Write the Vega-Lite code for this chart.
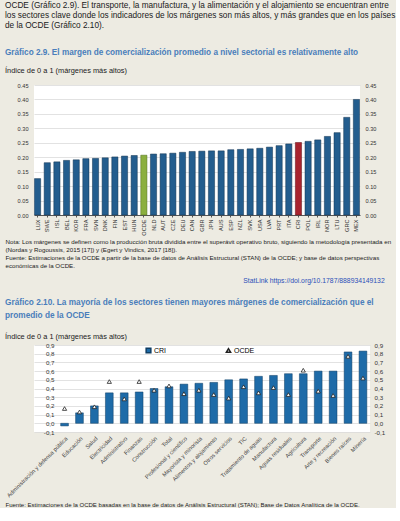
{
  "$schema": "https://vega.github.io/schema/vega-lite/v6.json",
  "background": "#EDEBE2",
  "padding": {"left": 5, "top": 1, "right": 0, "bottom": 0},
  "config": {
    "font": "Liberation Sans",
    "view": {"fill": "white", "stroke": null},
    "axis": {"labelFont": "Liberation Sans", "titleFont": "Liberation Sans", "labelColor": "#333", "gridColor": "#DADADA", "gridWidth": 0.8}
  },
  "title": {
    "text": [
      "OCDE (Gráfico 2.9). El transporte, la manufactura, y la alimentación y el alojamiento se encuentran entre",
      "los sectores clave donde los indicadores de los márgenes son más altos, y más grandes que en los países",
      "de la OCDE (Gráfico 2.10)."
    ],
    "anchor": "start",
    "fontSize": 8.25,
    "fontWeight": "normal",
    "color": "#1a1a1a",
    "lineHeight": 10,
    "offset": 19
  },
  "spacing": 8,
  "resolve": {"scale": {"color": "independent", "shape": "independent"}, "legend": {"color": "independent", "shape": "independent"}},
  "vconcat": [
    {
      "width": 326,
      "height": 130,
      "title": {
        "text": "Gráfico 2.9. El margen de comercialización promedio a nivel sectorial es relativamente alto",
        "subtitle": "Índice de 0 a 1 (márgenes más altos)",
        "anchor": "start",
        "frame": "bounds",
        "fontSize": 8.2,
        "fontWeight": "bold",
        "color": "#4A7EBB",
        "subtitleFontSize": 7.4,
        "subtitleColor": "#1a1a1a",
        "subtitlePadding": 9,
        "offset": 8
      },
      "data": {
        "values": [
          {"pais": "LUX", "valor": 0.126},
          {"pais": "SWE", "valor": 0.181},
          {"pais": "ISL", "valor": 0.184},
          {"pais": "BEL", "valor": 0.189},
          {"pais": "KOR", "valor": 0.191},
          {"pais": "FRA", "valor": 0.195},
          {"pais": "SVN", "valor": 0.196},
          {"pais": "DNK", "valor": 0.198},
          {"pais": "FIN", "valor": 0.201},
          {"pais": "EST", "valor": 0.204},
          {"pais": "HUN", "valor": 0.206},
          {"pais": "OCDE", "valor": 0.207},
          {"pais": "NLD", "valor": 0.211},
          {"pais": "AUT", "valor": 0.212},
          {"pais": "CZE", "valor": 0.214},
          {"pais": "DEU", "valor": 0.217},
          {"pais": "CAN", "valor": 0.22},
          {"pais": "GBR", "valor": 0.221},
          {"pais": "JPN", "valor": 0.222},
          {"pais": "AUS", "valor": 0.222},
          {"pais": "ESP", "valor": 0.226},
          {"pais": "NZL", "valor": 0.227},
          {"pais": "SVK", "valor": 0.229},
          {"pais": "USA", "valor": 0.231},
          {"pais": "LVA", "valor": 0.235},
          {"pais": "PRT", "valor": 0.24},
          {"pais": "ITA", "valor": 0.246},
          {"pais": "CRI", "valor": 0.251},
          {"pais": "POL", "valor": 0.255},
          {"pais": "IRL", "valor": 0.26},
          {"pais": "NOR", "valor": 0.272},
          {"pais": "LTU", "valor": 0.285},
          {"pais": "GRC", "valor": 0.338},
          {"pais": "MEX", "valor": 0.4}
        ]
      },
      "encoding": {
        "x": {
          "field": "pais",
          "type": "nominal",
          "sort": null,
          "scale": {"paddingInner": 0.36, "paddingOuter": 0.05},
          "axis": {
            "labelAngle": -90,
            "labelFontSize": 5.6,
            "labelPadding": 2,
            "domainColor": "#555",
            "tickColor": "#555",
            "tickSize": 2,
            "title": [
              "Nota: Los márgenes se definen como la producción bruta dividida entre el superávit operativo bruto, siguiendo la metodología presentada en",
              "(Nordas y Rogoussis, 2015 [17]) y (Egert y Vindics, 2017 [18]).",
              "Fuente: Estimaciones de la OCDE a partir de la base de datos de Análisis Estructural (STAN) de la OCDE; y base de datos perspectivas",
              "económicas de la OCDE."
            ],
            "titleFontSize": 6.2,
            "titleFontWeight": "normal",
            "titleColor": "#1a1a1a",
            "titleAnchor": "start",
            "titleAlign": "left",
            "titleX": -29,
            "titleLineHeight": 8,
            "titlePadding": 3
          }
        },
        "y": {
          "field": "valor",
          "type": "quantitative",
          "scale": {"domain": [0, 0.45]}
        }
      },
      "layer": [
        {
          "mark": {"type": "bar", "strokeWidth": 0.5},
          "encoding": {
            "y": {
              "field": "valor",
              "type": "quantitative",
              "scale": {"domain": [0, 0.45]},
              "axis": {
                "orient": "left",
                "values": [0, 0.05, 0.1, 0.15, 0.2, 0.25, 0.3, 0.35, 0.4, 0.45],
                "format": ".2f",
                "labelFontSize": 5.6,
                "domain": false,
                "ticks": false,
                "labelPadding": 6,
                "minExtent": 29,
                "maxExtent": 29,
                "title": null
              }
            },
            "fill": {
              "condition": [
                {"test": "datum.pais === 'CRI'", "value": "#A8232E"},
                {"test": "datum.pais === 'OCDE'", "value": "#8BAF3F"}
              ],
              "value": "#235D8E"
            },
            "stroke": {
              "condition": [
                {"test": "datum.pais === 'CRI'", "value": "#5e1016"},
                {"test": "datum.pais === 'OCDE'", "value": "#4d6a1c"}
              ],
              "value": "#12324f"
            }
          }
        },
        {
          "mark": {"type": "bar", "opacity": 0},
          "encoding": {
            "y": {
              "field": "valor",
              "type": "quantitative",
              "scale": {"domain": [0, 0.45]},
              "axis": {
                "orient": "right",
                "values": [0, 0.05, 0.1, 0.15, 0.2, 0.25, 0.3, 0.35, 0.4, 0.45],
                "format": ".2f",
                "labelFontSize": 5.6,
                "domain": false,
                "ticks": false,
                "grid": false,
                "labelPadding": 5,
                "title": null
              }
            }
          }
        }
      ],
      "resolve": {"axis": {"y": "independent"}}
    },
    {
      "title": {
        "text": "StatLink  https://doi.org/10.1787/888934149132",
        "anchor": "end",
        "fontSize": 6.8,
        "fontWeight": "normal",
        "color": "#2B4FB8",
        "offset": 14
      },
      "resolve": {"scale": {"color": "independent", "shape": "independent"}, "legend": {"color": "independent", "shape": "independent"}},
      "vconcat": [
        {
          "width": 336,
          "height": 87,
          "title": {
            "text": [
              "Gráfico 2.10. La mayoría de los sectores tienen mayores márgenes de comercialización que el",
              "promedio de la OCDE"
            ],
            "subtitle": "Índice de 0 a 1 (márgenes más altos)",
            "anchor": "start",
            "frame": "bounds",
            "fontSize": 8.25,
            "fontWeight": "bold",
            "lineHeight": 13,
            "color": "#4A7EBB",
            "subtitleFontSize": 7.4,
            "subtitleColor": "#1a1a1a",
            "subtitlePadding": 13,
            "offset": 2
          },
          "data": {
            "values": [
              {"sector": "Administración y defensa pública", "CRI": -0.03, "OCDE": 0.17},
              {"sector": "Educación", "CRI": 0.12, "OCDE": 0.13},
              {"sector": "Salud", "CRI": 0.2, "OCDE": 0.19},
              {"sector": "Electricidad", "CRI": 0.35, "OCDE": 0.48},
              {"sector": "Administrativo", "CRI": 0.35, "OCDE": 0.28},
              {"sector": "Finanzas", "CRI": 0.36, "OCDE": 0.48},
              {"sector": "Construcción", "CRI": 0.4, "OCDE": 0.38},
              {"sector": "Total", "CRI": 0.42, "OCDE": 0.43},
              {"sector": "Profesional y científico", "CRI": 0.45, "OCDE": 0.34},
              {"sector": "Mayorista y minorista", "CRI": 0.46, "OCDE": 0.38},
              {"sector": "Alimentos y alojamiento", "CRI": 0.47, "OCDE": 0.33},
              {"sector": "Otros servicios", "CRI": 0.5, "OCDE": 0.29},
              {"sector": "TIC", "CRI": 0.51, "OCDE": 0.42},
              {"sector": "Tratamiento de aguas", "CRI": 0.54, "OCDE": 0.35},
              {"sector": "Manufactura", "CRI": 0.55, "OCDE": 0.41},
              {"sector": "Aguas residuales", "CRI": 0.57, "OCDE": 0.33},
              {"sector": "Agricultura", "CRI": 0.57, "OCDE": 0.61},
              {"sector": "Transporte", "CRI": 0.6, "OCDE": 0.37},
              {"sector": "Arte y recreación", "CRI": 0.6, "OCDE": 0.32},
              {"sector": "Bienes raíces", "CRI": 0.82, "OCDE": 0.77},
              {"sector": "Minería", "CRI": 0.83, "OCDE": 0.52}
            ]
          },
          "encoding": {
            "x": {
              "field": "sector",
              "type": "nominal",
              "sort": null,
              "scale": {"paddingInner": 0.48, "paddingOuter": 1.017, "align": 0.894},
              "axis": {
                "labelAngle": -45,
                "labelFontSize": 5.7,
                "labelColor": "#444",
                "labelPadding": 3,
                "domain": false,
                "ticks": false,
                "title": "Fuente: Estimaciones de la OCDE basadas en la base de datos de Análisis Estructural (STAN); Base de Datos Analítica de la OCDE.",
                "titleFontSize": 6.0,
                "titleFontWeight": "normal",
                "titleColor": "#1a1a1a",
                "titleAnchor": "start",
                "titleAlign": "left",
                "titleX": -29,
                "titlePadding": 4
              }
            }
          },
          "layer": [
            {
              "mark": {"type": "bar", "stroke": "#0f3d63", "strokeWidth": 0.5},
              "encoding": {
                "y": {
                  "field": "CRI",
                  "type": "quantitative",
                  "scale": {"domain": [-0.1, 0.9], "nice": false},
                  "axis": {
                    "orient": "left",
                    "offset": -23,
                    "values": [-0.1, 0, 0.1, 0.2, 0.3, 0.4, 0.5, 0.6, 0.7, 0.8, 0.9],
                    "labelExpr": "replace(replace(format(datum.value, '.1f'), '.', ','), '−', '-')",
                    "labelFontSize": 6.2,
                    "domain": false,
                    "ticks": false,
                    "labelPadding": 3,
                    "title": null
                  }
                },
                "color": {
                  "datum": "CRI",
                  "scale": {"domain": ["CRI"], "range": ["#1E6BA8"]},
                  "legend": {
                    "orient": "none",
                    "legendX": 111,
                    "legendY": 2,
                    "title": null,
                    "labelFontSize": 7,
                    "symbolType": "square",
                    "symbolSize": 22,
                    "labelOffset": 2
                  }
                }
              }
            },
            {
              "mark": {"type": "point", "filled": true, "fill": "white", "stroke": "#222", "strokeWidth": 0.8, "size": 18, "opacity": 1},
              "encoding": {
                "y": {
                  "field": "OCDE",
                  "type": "quantitative",
                  "scale": {"domain": [-0.1, 0.9], "nice": false},
                  "axis": {
                    "orient": "right",
                    "values": [-0.1, 0, 0.1, 0.2, 0.3, 0.4, 0.5, 0.6, 0.7, 0.8, 0.9],
                    "labelExpr": "replace(replace(format(datum.value, '.1f'), '.', ','), '−', '-')",
                    "labelFontSize": 6.2,
                    "domain": false,
                    "ticks": false,
                    "grid": false,
                    "labelPadding": 4,
                    "title": null
                  }
                },
                "shape": {
                  "datum": "OCDE",
                  "scale": {"domain": ["OCDE"], "range": ["triangle-up"]},
                  "legend": {
                    "orient": "none",
                    "legendX": 191,
                    "legendY": 2,
                    "title": null,
                    "labelFontSize": 7,
                    "symbolSize": 18,
                    "labelOffset": 2,
                    "encode": {"symbols": {"update": {"fill": {"value": "#333"}, "stroke": {"value": "#333"}, "opacity": {"value": 1}}}}
                  }
                }
              }
            }
          ],
          "resolve": {"axis": {"y": "independent"}, "scale": {"y": "shared"}}
        }
      ]
    }
  ]
}
